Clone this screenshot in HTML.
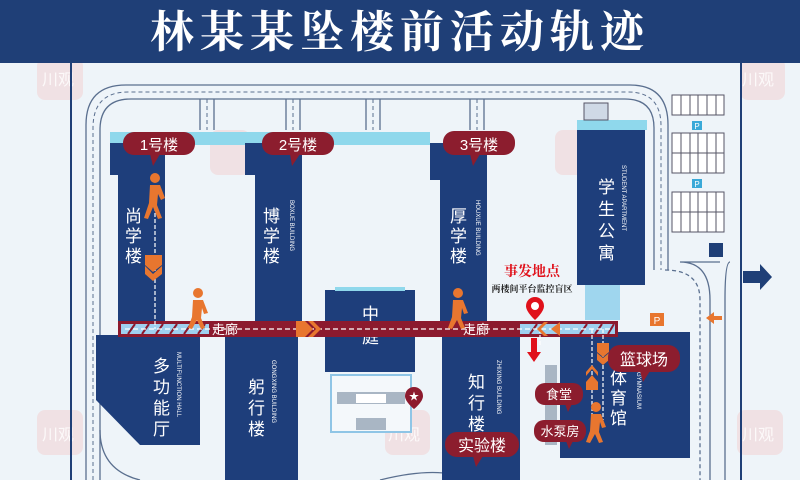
<!DOCTYPE html>
<html><head><meta charset="utf-8"><style>
html,body{margin:0;padding:0;background:#eef4f9;}
svg{display:block;}
text{font-family:"Liberation Sans","Noto Sans CJK SC",sans-serif;}
.serif{font-family:"Liberation Serif","Noto Serif CJK SC",serif;}
</style></head><body>
<svg width="800" height="480" viewBox="0 0 800 480" xmlns="http://www.w3.org/2000/svg">
<rect width="800" height="480" fill="#eef4f9"/>
<!-- watermarks -->
<g fill="#f2c9c9" opacity="0.45">
<rect x="37" y="58" width="46" height="42" rx="8"/><rect x="210" y="130" width="40" height="45" rx="8"/><rect x="555" y="130" width="45" height="45" rx="8"/><rect x="740" y="58" width="45" height="42" rx="8"/>
<rect x="37" y="410" width="46" height="45" rx="8"/><rect x="385" y="410" width="45" height="45" rx="8"/><rect x="737" y="410" width="46" height="45" rx="8"/>
</g>
<g fill="#fff" font-size="16" opacity="0.8"><text x="42" y="85">川观</text><text x="742" y="85">川观</text><text x="42" y="440">川观</text><text x="742" y="440">川观</text><text x="388" y="440">川观</text></g>
<!-- header -->
<rect x="0" y="0" width="800" height="63" fill="#1f3f77"/>
<text x="400" y="47" text-anchor="middle" fill="#fff" font-size="44" font-weight="bold" class="serif" letter-spacing="6">林某某坠楼前活动轨迹</text>
<!-- boundary lines -->
<line x1="71" y1="63" x2="71" y2="480" stroke="#1f3f77" stroke-width="2"/>
<line x1="741" y1="63" x2="741" y2="480" stroke="#1f3f77" stroke-width="2"/>
<!-- roads -->
<g fill="none" stroke="#5a6f8f" stroke-width="1.3">
<path d="M86 480 V125 Q86 85 126 85 H630 Q668 85 668 125 V270"/>
<path d="M100 480 V130 Q100 99 131 99 H625 Q654 99 654 128 V270"/>
<path d="M93 480 V128 Q93 92 128 92 H628 Q661 92 661 126 V270" stroke-dasharray="4 3" stroke-width="1"/>
<path d="M200 99 V130 M214 99 V130 M286 99 V130 M300 99 V130 M366 99 V130 M380 99 V130 M470 99 V130 M484 99 V130"/>
<path d="M207 99 V130 M293 99 V130 M373 99 V130 M477 99 V130" stroke-dasharray="4 3" stroke-width="1"/>
<path d="M720 262 H680 Q710 262 710 300 V480 M730 262 Q725 262 725 300 V480" />
<path d="M665 270 Q700 270 700 300 V480" stroke-dasharray="4 3"/>
<path d="M100 430 Q100 470 140 480"/>
<path d="M380 480 Q440 465 470 480"/>
</g>
<!-- parking -->
<g fill="#fff" stroke="#556" stroke-width="1">
<rect x="672" y="95" width="52" height="20"/><rect x="672" y="133" width="52" height="40"/><rect x="672" y="192" width="52" height="40"/>
<path d="M681 95V115M690 95V115M698 95V115M707 95V115M716 95V115M681 133V173M690 133V173M698 133V173M707 133V173M716 133V173M672 153H724M681 192V232M690 192V232M698 192V232M707 192V232M716 192V232M672 212H724"/>
</g>
<rect x="692" y="121" width="10" height="9" fill="#3aa9d8"/><text x="697" y="129" font-size="8" fill="#fff" text-anchor="middle">P</text>
<rect x="692" y="179" width="10" height="9" fill="#3aa9d8"/><text x="697" y="187" font-size="8" fill="#fff" text-anchor="middle">P</text>
<rect x="709" y="243" width="14" height="14" fill="#1f3f77"/>
<path d="M743 271 H760 V264 L772 277 L760 290 V283 H743 Z" fill="#1f3f77"/>
<!-- cyan strip -->
<rect x="110" y="132" width="320" height="13" fill="#8fd8ec"/>
<!-- buildings -->
<g fill="#1e3e7b">
<path d="M110 143 H165 V322 H118 V175 H110 Z"/>
<path d="M245 143 H302 V322 H255 V175 H245 Z"/>
<path d="M430 143 H487 V322 H440 V180 H430 Z"/>
<path d="M96 335 H200 V445 H140 L96 400 Z"/>
<rect x="225" y="335" width="73" height="145"/>
<rect x="442" y="335" width="78" height="145"/>
<rect x="325" y="290" width="90" height="82"/>
<rect x="577" y="128" width="68" height="157"/>
<rect x="560" y="332" width="130" height="126"/>
</g>
<rect x="335" y="287" width="70" height="4" fill="#8fd8ec"/>
<rect x="577" y="120" width="70" height="10" fill="#8fd8ec"/>
<rect x="584" y="103" width="24" height="17" fill="#cfd9e6" stroke="#556"/>
<rect x="585" y="285" width="35" height="35" fill="#9fd6ee"/>
<g fill="#f4f8fb" stroke="#8fc5e6" stroke-width="2"><rect x="331" y="375" width="80" height="57"/></g>
<g fill="#a9b6c4"><rect x="337" y="392" width="68" height="12"/><rect x="356" y="418" width="30" height="12"/></g>
<rect x="356" y="394" width="30" height="9" fill="#fff"/>
<rect x="545" y="365" width="12" height="80" fill="#a9b6c4"/>
<!-- building labels -->
<g fill="#fff" font-size="17">
<text x="125" y="222">尚</text><text x="125" y="242">学</text><text x="125" y="262">楼</text>
<text x="263" y="222">博</text><text x="263" y="242">学</text><text x="263" y="262">楼</text>
<text x="450" y="222">厚</text><text x="450" y="242">学</text><text x="450" y="262">楼</text>
<text x="153" y="372">多</text><text x="153" y="393">功</text><text x="153" y="414">能</text><text x="153" y="435">厅</text>
<text x="248" y="393">躬</text><text x="248" y="414">行</text><text x="248" y="435">楼</text>
<text x="468" y="388">知</text><text x="468" y="409">行</text><text x="468" y="430">楼</text>
<text x="362" y="320">中</text><text x="362" y="343">庭</text>
<text x="598" y="193">学</text><text x="598" y="215">生</text><text x="598" y="237">公</text><text x="598" y="259">寓</text>
<text x="610" y="384">体</text><text x="610" y="404">育</text><text x="610" y="424">馆</text>
</g>
<g fill="#fff" font-size="6" class="serif">
<text transform="translate(290,200) rotate(90)">BOXUE BUILDING</text>
<text transform="translate(476,200) rotate(90)">HOUXUE BUILDING</text>
<text transform="translate(177,352) rotate(90)">MULTIFUNCTION HALL</text>
<text transform="translate(272,360) rotate(90)">GONGXING BUILDING</text>
<text transform="translate(497,360) rotate(90)">ZHIXING BUILDING</text>
<text transform="translate(622,165) rotate(90)">STUDENT APARTMENT</text>
<text transform="translate(637,372) rotate(90)">GYMNASIUM</text>
</g>
<!-- corridor -->
<rect x="118" y="321" width="500" height="16" fill="#8c1a2e"/>
<rect x="121" y="324" width="88" height="10" fill="#9fd0ef"/>
<rect x="520" y="324" width="95" height="10" fill="#9fd0ef"/>
<g stroke="#8c1a2e" stroke-width="2"><path d="M128 334L135 324M142 334L149 324M156 334L163 324M170 334L177 324M184 334L191 324M198 334L205 324M530 334L537 324M580 334L587 324M595 334L602 324M608 334L614 324"/></g>
<line x1="125" y1="329" x2="612" y2="329" stroke="#fff" stroke-width="1.2" stroke-dasharray="5 3"/>
<text x="212" y="334" fill="#fff" font-size="13">走廊</text>
<text x="463" y="334" fill="#fff" font-size="13">走廊</text>
<!-- path route -->
<g stroke="#fff" stroke-width="1.2" stroke-dasharray="4 2" fill="none">
<path d="M155 195 V329"/><path d="M592 329 V420 M603 329 V420 M540 329 V345"/>
</g>
<g fill="#e8762f">
<path d="M145 255 H162 V265 L153 272 L145 265Z"/><path d="M145 266 L153 274 L162 266 V274 L153 281 L145 274Z"/>
<path d="M296 321 H305 L313 329 L305 337 H296Z"/><path d="M308 321 H313 L321 329 L313 337 H308 L316 329Z"/>
<path d="M560 322 V336 L551 329Z"/><path d="M548 322 L541 329 L548 336 H544 L537 329 L544 322Z"/>
<path d="M597 343 H609 V352 L603 357 L597 352Z"/><path d="M597 353 L603 358 L609 353 V360 L603 365 L597 360Z"/>
<path d="M586 382 L592 375 L598 382 V390 H586Z"/><path d="M586 376 L592 369 L598 376 V372 L592 365 L586 372Z"/>
</g>
<!-- walkers -->
<g fill="#e8762f">
<circle cx="155" cy="178" r="5"/><path d="M150 185 H160 L165 198 L161 200 L158 194 L157 205 L162 218 L158 219 L153 207 L148 219 L144 218 L149 203 Z"/>
<circle cx="198" cy="293" r="5"/><path d="M193 300 H203 L208 313 L204 314 L202 308 L201 318 L205 328 L201 329 L197 320 L192 329 L188 328 L192 317 Z"/>
<circle cx="458" cy="293" r="5"/><path d="M453 300 H463 L468 313 L464 314 L462 308 L461 318 L465 328 L461 329 L457 320 L452 329 L448 328 L452 317 Z"/>
<circle cx="596" cy="407" r="5"/><path d="M591 414 H601 L606 427 L602 428 L600 422 L599 432 L603 442 L599 443 L595 434 L590 443 L586 442 L590 431 Z"/>
</g>
<!-- event -->
<text x="532" y="276" text-anchor="middle" fill="#e0111b" font-size="14" font-weight="bold" class="serif">事发地点</text>
<text x="532" y="292" text-anchor="middle" fill="#222" font-size="9" font-weight="bold" class="serif">两楼间平台监控盲区</text>
<path d="M535 297 a9 9 0 0 1 9 9 c0 6 -9 14 -9 14 c0 0 -9 -8 -9 -14 a9 9 0 0 1 9 -9z" fill="#e0111b"/><circle cx="535" cy="306" r="4" fill="#fff"/>
<path d="M531 338 V352 H527 L534 362 L541 352 H537 V338Z" fill="#e0111b"/>
<path d="M706 318 L714 312 L714 316 H722 V320 H714 V324Z" fill="#e8762f"/>
<rect x="650" y="313" width="14" height="13" fill="#e8762f"/><text x="657" y="324" text-anchor="middle" fill="#fff" font-size="10">P</text>
<!-- star pin -->
<path d="M414 387 a9 9 0 0 1 9 9 c0 6 -9 13 -9 13 c0 0 -9 -7 -9 -13 a9 9 0 0 1 9 -9z" fill="#8c1a2e"/>
<text x="414" y="400" text-anchor="middle" fill="#fff" font-size="10">★</text>
<!-- bubbles -->
<g fill="#8c1d2e">
<rect x="123" y="132" width="72" height="23" rx="11"/><path d="M150 154 L160 154 L153 166Z"/>
<rect x="262" y="132" width="72" height="23" rx="11"/><path d="M290 154 L300 154 L292 166Z"/>
<rect x="443" y="131" width="72" height="24" rx="11"/><path d="M470 154 L480 154 L473 166Z"/>
<rect x="608" y="345" width="72" height="27" rx="12"/><path d="M640 371 L650 371 L643 382Z"/>
<rect x="535" y="383" width="48" height="22" rx="10"/><path d="M565 404 L572 404 L568 412Z"/>
<rect x="534" y="420" width="52" height="22" rx="10"/><path d="M566 441 L573 441 L569 449Z"/>
<rect x="445" y="432" width="74" height="25" rx="12"/><path d="M473 456 L483 456 L476 467Z"/>
</g>
<g fill="#fff" class="serif">
<text x="159" y="150" text-anchor="middle" font-size="15">1号楼</text>
<text x="298" y="150" text-anchor="middle" font-size="15">2号楼</text>
<text x="479" y="150" text-anchor="middle" font-size="15">3号楼</text>
</g>
<g fill="#fff">
<text x="644" y="365" text-anchor="middle" font-size="16">篮球场</text>
<text x="559" y="399" text-anchor="middle" font-size="13">食堂</text>
<text x="560" y="436" text-anchor="middle" font-size="13">水泵房</text>
<text x="482" y="451" text-anchor="middle" font-size="16">实验楼</text>
</g>
</svg>
</body></html>
